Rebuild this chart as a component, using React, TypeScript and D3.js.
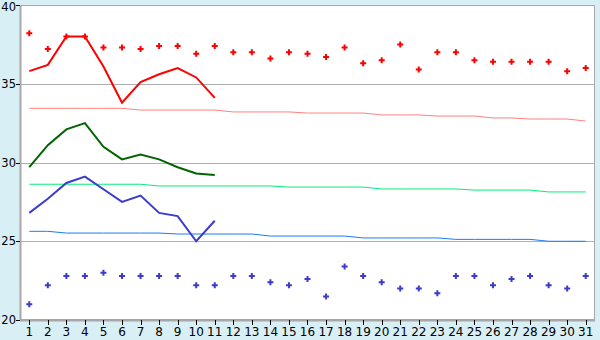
import React from "react";
import * as d3 from "d3";

const days = d3.range(1, 32).map(String);
const maxPoints = [38.2,37.2,38.0,38.0,37.3,37.3,37.2,37.4,37.4,36.9,37.4,37.0,37.0,36.6,37.0,36.9,36.7,37.3,36.3,36.5,37.5,35.9,37.0,37.0,36.5,36.4,36.4,36.4,36.4,35.8,36.0];
const minPoints = [21.0,22.2,22.8,22.8,23.0,22.8,22.8,22.8,22.8,22.2,22.2,22.8,22.8,22.4,22.2,22.6,21.5,23.4,22.8,22.4,22.0,22.0,21.7,22.8,22.8,22.2,22.6,22.8,22.2,22.0,22.8];
const redLine = [35.8,36.2,38.0,38.0,36.1,33.8,35.1,35.6,36.0,35.4,34.1];
const greenLine = [29.7,31.1,32.1,32.5,31.0,30.2,30.5,30.2,29.7,29.3,29.2];
const blueLine = [26.8,27.7,28.7,29.1,28.3,27.5,27.9,26.8,26.6,25.0,26.3];
const normalMax = [33.44,33.44,33.44,33.44,33.44,33.44,33.33,33.33,33.33,33.33,33.33,33.21,33.21,33.21,33.21,33.14,33.14,33.14,33.14,33.02,33.02,33.02,32.95,32.95,32.95,32.83,32.83,32.76,32.76,32.76,32.63];
const normalMean = [28.62,28.62,28.62,28.62,28.62,28.62,28.62,28.51,28.51,28.51,28.51,28.51,28.51,28.51,28.44,28.44,28.44,28.44,28.44,28.32,28.32,28.32,28.32,28.32,28.25,28.25,28.25,28.25,28.13,28.13,28.13];
const normalMin = [25.63,25.63,25.52,25.52,25.52,25.52,25.52,25.52,25.46,25.46,25.46,25.46,25.46,25.33,25.33,25.33,25.33,25.33,25.21,25.21,25.21,25.21,25.21,25.12,25.12,25.12,25.12,25.12,25.0,25.0,25.0];
const yTicks = [20, 25, 30, 35, 40];

const W = 600, H = 340;
const left = 20, right = 595, top = 5, bottom = 320;

export default function App() {
  const x = d3.scaleBand<string>().domain(days).range([left, right]).padding(0);
  const y = d3.scaleLinear().domain([20, 40]).range([bottom, top]);
  const cx = (i: number) => (x(days[i]) as number) + x.bandwidth() / 2;
  const line = d3.line<number>().x((_, i) => cx(i)).y((v) => y(v));
  const plus = "M-1,-3H1V-1H3V1H1V3H-1V1H-3V-1H-1Z";

  return (
    <svg width={W} height={H} style={{ position: "absolute", left: 0, top: 0, display: "block" }}
      fontFamily="DejaVu Sans, Verdana, sans-serif" fontSize={12}>
      <rect x={0} y={0} width={W} height={H} fill="#d9eff6" />
      <rect x={left} y={top} width={right - left} height={bottom - top} fill="#ffffff" />
      {yTicks.filter((t) => t > 20 && t < 40).map((t) => (
        <line key={t} x1={left} x2={right} y1={Math.round(y(t)) + 0.5} y2={Math.round(y(t)) + 0.5} stroke="#b0b0b0" strokeWidth={1} />
      ))}
      <rect x={left + 0.5} y={top + 0.5} width={right - left - 1} height={bottom - top - 1} fill="none" stroke="#a8a8a8" strokeWidth={1} />
      <line x1={left + 0.5} x2={left + 0.5} y1={top} y2={bottom + 1} stroke="#a8a8a8" strokeWidth={2} />
      <line x1={left} x2={right} y1={bottom + 0.5} y2={bottom + 0.5} stroke="#a8a8a8" strokeWidth={2} />
      {yTicks.map((t) => (
        <g key={t}>
          <line x1={left - 4} x2={left} y1={Math.round(y(t)) + 0.5} y2={Math.round(y(t)) + 0.5} stroke="#000" />
          <text x={left - 4} y={Math.max(y(t), 7)} dy="0.35em" textAnchor="end" fill="#000" fontSize={11.5}>{t}</text>
        </g>
      ))}
      {days.map((d, i) => (
        <g key={d}>
          <line x1={Math.round(cx(i)) + 0.5} x2={Math.round(cx(i)) + 0.5} y1={bottom} y2={bottom + 5} stroke="#000" />
          <text x={cx(i)} y={bottom + 16} textAnchor="middle" fill="#000">{d}</text>
        </g>
      ))}
      <path d={line(normalMax) || ""} fill="none" stroke="#ff8080" strokeWidth={1} />
      <path d={line(normalMean) || ""} fill="none" stroke="#00ee77" strokeWidth={1} />
      <path d={line(normalMin) || ""} fill="none" stroke="#1a7cf0" strokeWidth={1} />
      <path d={line(redLine) || ""} fill="none" stroke="#ff0000" strokeWidth={2} />
      <path d={line(greenLine) || ""} fill="none" stroke="#006400" strokeWidth={2} />
      <path d={line(blueLine) || ""} fill="none" stroke="#3c3ccc" strokeWidth={2} />
      {maxPoints.map((v, i) => (
        <path key={"mx" + i} d={plus} transform={`translate(${cx(i)},${y(v)})`} fill="#ff0000" />
      ))}
      {minPoints.map((v, i) => (
        <path key={"mn" + i} d={plus} transform={`translate(${cx(i)},${y(v)})`} fill="#3c3ccc" />
      ))}
    </svg>
  );
}
